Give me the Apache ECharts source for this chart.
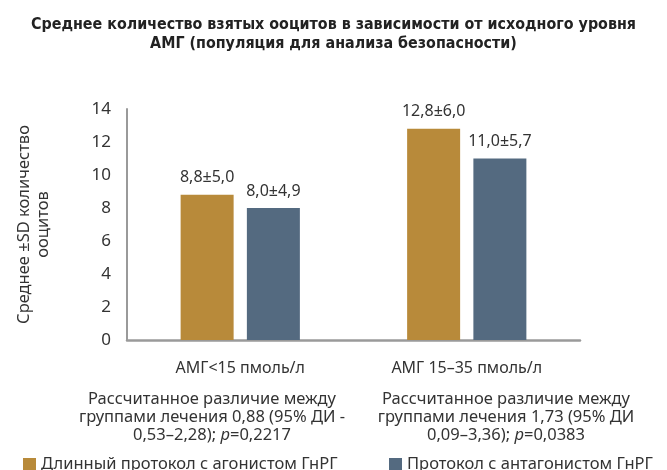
<!DOCTYPE html>
<html>
<head>
<meta charset="utf-8">
<script src="https://cdn.jsdelivr.net/npm/echarts@6/dist/echarts.min.js"></script>
<style>
  html, body { margin: 0; padding: 0; background: #fff; }
  #chart { width: 667px; height: 470px; }
</style>
</head>
<body>
<div id="chart"></div>
<script>
var categories = ['АМГ<15 пмоль/л', 'АМГ 15–35 пмоль/л'];
var seriesNames = ['Длинный протокол с агонистом ГнРГ', 'Протокол с антагонистом ГнРГ'];
var agonistMean = [8.8, 12.8];
var agonistSd = [5.0, 6.0];
var antagonistMean = [8.0, 11.0];
var antagonistSd = [4.9, 5.7];
var yTicks = [0, 2, 4, 6, 8, 10, 12, 14];
var notes = [
    'Рассчитанное различие между\nгруппами лечения 0,88 (95% ДИ -\n0,53–2,28); {i|p}=0,2217',
    'Рассчитанное различие между\nгруппами лечения 1,73 (95% ДИ\n0,09–3,36); {i|p}=0,0383'
];

var chartDom = document.getElementById('chart');
var myChart = echarts.init(chartDom);

var font = '"Noto Sans", sans-serif';
var textColor = '#333';
var color = ['#B88A3A', '#546A80'];

function fmt(v) {
    return v.toFixed(1).replace('.', ',');
}

var sds = [agonistSd, antagonistSd];
var means = [agonistMean, antagonistMean];
var series = [];
for (var i = 0; i < 2; i++) {
    (function (k) {
        series.push({
            name: seriesNames[k],
            type: 'bar',
            barWidth: 53,
            barGap: '25%',
            itemStyle: { color: color[k] },
            label: {
                show: true,
                position: 'top',
                distance: 9,
                color: textColor,
                fontFamily: font,
                fontSize: 16,
                formatter: function (p) {
                    return fmt(p.value) + '±' + fmt(sds[k][p.dataIndex]);
                }
            },
            data: means[k]
        });
    })(i);
}

var legendText = { color: textColor, fontSize: 16.5, fontFamily: font };

var option = {
    animation: false,
    textStyle: { fontFamily: font },
    title: {
        text: 'Среднее количество взятых ооцитов в зависимости от исходного уровня\nАМГ (популяция для анализа безопасности)',
        left: 'center',
        top: 10,
        textStyle: {
            fontFamily: '"Liberation Sans Narrow", "DejaVu Sans Condensed", sans-serif',
            fontWeight: 'bold',
            fontSize: 15.9,
            lineHeight: 19,
            color: '#222'
        }
    },
    legend: [{
        data: [seriesNames[0]],
        left: 18,
        top: 451,
        icon: 'rect',
        itemWidth: 13,
        itemHeight: 13,
        textStyle: legendText
    }, {
        data: [seriesNames[1]],
        left: 384,
        top: 451,
        icon: 'rect',
        itemWidth: 13,
        itemHeight: 13,
        textStyle: legendText
    }],
    grid: {
        left: 127,
        right: 87,
        top: 109,
        bottom: 130,
        containLabel: false
    },
    xAxis: {
        type: 'category',
        data: categories,
        axisLine: { lineStyle: { color: '#9a9a9a', width: 2.5 } },
        axisTick: { show: false },
        axisLabel: {
            color: textColor,
            fontSize: 16,
            margin: 20
        }
    },
    yAxis: {
        type: 'value',
        min: yTicks[0],
        max: yTicks[yTicks.length - 1],
        interval: 2,
        name: 'Среднее ±SD количество\nооцитов',
        nameLocation: 'middle',
        nameRotate: 90,
        nameGap: 74,
        nameTextStyle: { color: textColor, fontSize: 16.5, lineHeight: 19, align: 'center' },
        axisLine: { show: true, lineStyle: { color: '#9a9a9a', width: 2 } },
        axisTick: { show: false },
        splitLine: { show: false },
        axisLabel: {
            color: textColor,
            fontSize: 17,
            margin: 16
        }
    },
    graphic: notes.map(function (t, k) {
        return {
            type: 'text',
            x: [212, 506][k],
            y: 390,
            style: {
                text: t,
                textAlign: 'center',
                fill: textColor,
                fontSize: 16.5,
                fontFamily: font,
                lineHeight: 18,
                rich: {
                    i: { fontStyle: 'italic', fontSize: 16.5, fontFamily: font, fill: textColor }
                }
            }
        };
    }),
    series: series
};

option && myChart.setOption(option);
</script>
</body>
</html>
